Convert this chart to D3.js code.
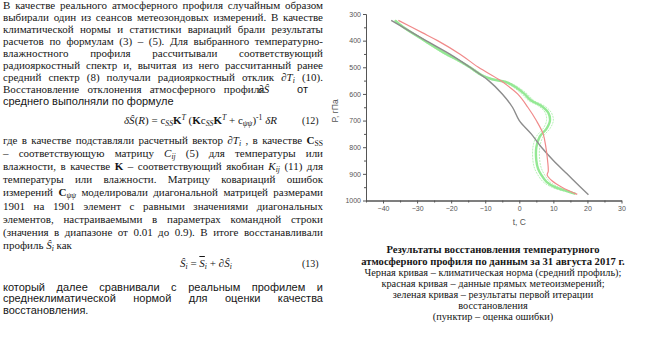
<!DOCTYPE html>
<html>
<head>
<meta charset="utf-8">
<script src="https://cdn.jsdelivr.net/npm/d3@7/dist/d3.min.js"></script>
<style>
  body { margin: 0; width: 656px; height: 338px; background: #fff; position: relative; overflow: hidden; }
  .ln { position: absolute; left: 3px; white-space: nowrap; font: 11px/11px "Liberation Serif", "Times New Roman", serif; color: #161616; }
  .sans { font-family: "Liberation Sans", Arial, sans-serif; }
  .ln sub { font-size: 70%; vertical-align: -2px; line-height: 0; }
  .ln sup { font-size: 70%; vertical-align: 4px; line-height: 0; }
  .cap { position: absolute; left: 330px; width: 326px; text-align: center; white-space: nowrap;
         font: 10.3px/11px "Liberation Serif", "Times New Roman", serif; color: #161616; }
  .cap.b { font-weight: bold; font-size: 10.6px; }
  .ov { text-decoration: overline; }
  #chart { position: absolute; left: 0; top: 0; }
  #chart text { font-family: "Liberation Sans", Arial, sans-serif; fill: #555; }
</style>
</head>
<body>

<!-- left column, paragraph 1 -->
<div class="ln j" style="top:0px"><span>В качестве реального атмосферного профиля случайным образом</span></div>
<div class="ln j" style="top:11.6px"><span>выбирали один из сеансов метеозондовых измерений. В качестве</span></div>
<div class="ln j" style="top:23.7px"><span>климатической нормы и статистики вариаций брали результаты</span></div>
<div class="ln j" style="top:35.8px"><span>расчетов по формулам (3) – (5). Для выбранного температурно-</span></div>
<div class="ln j" style="top:47.9px"><span>влажностного профиля рассчитывали соответствующий</span></div>
<div class="ln j" style="top:60px"><span>радиояркостный спектр и, вычитая из него рассчитанный ранее</span></div>
<div class="ln j" style="top:72.1px"><span>средний спектр (8) получали радиояркостный отклик <i>∂T<sub>i</sub></i> (10).</span></div>
<div class="ln" style="top:84.2px"><span>Восстановление&nbsp;&nbsp;&nbsp;отклонения&nbsp;&nbsp;&nbsp;атмосферного&nbsp;&nbsp;&nbsp;профи<span style="margin-right:-6px">ля</span><i>∂Ŝ</i></span></div>
<div class="ln sans" style="top:84.2px;left:297px">от</div>
<div class="ln sans" style="top:96.3px"><span>среднего выполняли по формуле</span></div>

<!-- formula 12 -->
<div class="ln" style="top:115px;left:124px"><span><i>δŜ</i>(<i>R</i>) = c<sub><i>SS</i></sub><b>K</b><sup><i>T</i></sup> (<b>K</b>c<sub><i>SS</i></sub><b>K</b><sup><i>T</i></sup> + c<sub><i>ψψ</i></sub>)<sup>-1</sup> <i>δR</i></span></div>
<div class="ln" style="top:115px;left:302px;font-size:10px">(12)</div>

<!-- paragraph 2 -->
<div class="ln j" style="top:134.5px"><span>где в качестве подставляли расчетный вектор <i>∂T<sub>i</sub></i> , в качестве <b>C</b><sub>SS</sub></span></div>
<div class="ln j" style="top:147.7px"><span>– соответствующую матрицу <i>C<sub>ij</sub></i> (5) для температуры или</span></div>
<div class="ln j" style="top:160.9px"><span>влажности, в качестве <b>K</b> – соответствующий якобиан <i>K<sub>ij</sub></i> (11) для</span></div>
<div class="ln j" style="top:174.1px"><span>температуры или влажности. Матрицу ковариаций ошибок</span></div>
<div class="ln j" style="top:187.3px"><span>измерений <b>C</b><sub><i>ψψ</i></sub> моделировали диагональной матрицей размерами</span></div>
<div class="ln j" style="top:200.5px"><span>1901 на 1901 элемент с равными значениями диагональных</span></div>
<div class="ln j" style="top:213.7px"><span>элементов, настраиваемыми в параметрах командной строки</span></div>
<div class="ln j" style="top:226.9px"><span>(значения в диапазоне от 0.01 до 0.9). В итоге восстанавливали</span></div>
<div class="ln" style="top:240.1px"><span>профиль <i>Ŝ<sub>i</sub></i> как</span></div>

<!-- formula 13 -->
<div class="ln" style="top:257.5px;left:180px"><span><i>Ŝ<sub>i</sub></i> = <i class="ov">S</i><sub><i>i</i></sub> + <i>∂Ŝ<sub>i</sub></i></span></div>
<div class="ln" style="top:257.5px;left:302px;font-size:10px">(13)</div>

<!-- paragraph 3 -->
<div class="ln sans j" style="top:281.5px"><span>который далее сравнивали с реальным профилем и</span></div>
<div class="ln sans j" style="top:293px"><span>среднеклиматической нормой для оценки качества</span></div>
<div class="ln sans" style="top:304.5px"><span>восстановления.</span></div>

<!-- caption -->
<div class="cap b" style="top:243.5px">Результаты восстановления температурного</div>
<div class="cap b" style="top:255.5px">атмосферного профиля по данным за 31 августа 2017 г.</div>
<div class="cap" style="top:267px">Черная кривая – климатическая норма (средний профиль);</div>
<div class="cap" style="top:278px">красная кривая – данные прямых метеоизмерений;</div>
<div class="cap" style="top:289px">зеленая кривая – результаты первой итерации</div>
<div class="cap" style="top:300px">восстановления</div>
<div class="cap" style="top:311px">(пунктир – оценка ошибки)</div>

<svg id="chart" width="656" height="338"></svg>

<script>
// climatic norm (black/gray curve)
const normP = [324, 400, 450, 500, 550, 600, 650, 700, 750, 800, 850, 900, 950, 978];
const normT = [-37.6, -27.4, -20.5, -14.5, -9, -5, -2, 0, 3.5, 6.5, 10, 14, 18, 20.3];

// direct radiosonde measurements (red curve)
const sondeP = [324, 370, 400, 450, 500, 550, 600, 650, 700, 750, 800, 850, 890, 905, 925, 950, 977];
const sondeT = [-35.5, -28.5, -24, -17.5, -12, -5.5, -0.5, 2.5, 5, 7, 7.8, 8.3, 8.5, 8.2, 9.5, 12.5, 17];

// first iteration retrieval (green curve) and its error estimate
const retrP  = [324, 350, 400, 450, 470, 500, 530, 545, 555, 575, 600, 625, 645, 670, 700, 730, 760, 800, 850, 880, 905, 930, 950, 965, 975];
const retrT  = [-36.5, -34, -27.8, -21.5, -18.5, -14.5, -11, -8, -4, -1, 1.5, 3.5, 6.5, 8.5, 9, 8, 6, 5, 5, 5.5, 6.5, 8, 10.5, 14, 16.5];
const retrLo = [-36.8, -34.3, -28.2, -22, -19, -15, -11.5, -8.5, -4.6, -1.7, 0.7, 2.7, 5.6, 7.6, 8, 7, 5, 4, 4, 4.5, 5.5, 7, 9.5, 13.2, 16];
const retrHi = [-36.2, -33.7, -27.4, -21, -18, -14, -10.5, -7.5, -3.4, -0.3, 2.3, 4.3, 7.4, 9.4, 10, 9, 7, 6, 6, 6.5, 7.5, 9, 11.5, 14.8, 17];

const xTicks = [-40, -30, -20, -10, 0, 10, 20, 30];
const xMinor = [-45, -35, -25, -15, -5, 5, 15, 25];
const yTicks = [300, 400, 500, 600, 700, 800, 900, 1000];
const yMinor = [350, 450, 550, 650, 750, 850, 950];

// stretch justified lines to the column width
document.querySelectorAll('.j').forEach(el => {
  const s = el.firstElementChild;
  const w = s.getBoundingClientRect().width;
  const n = (s.textContent.match(/ /g) || []).length;
  if (n) s.style.wordSpacing = ((320 - w) / n) + 'px';
});

const svg = d3.select('#chart');

const x = d3.scaleLinear().domain([-45, 30]).range([366, 621.5]);
const y = d3.scaleLinear().domain([300, 1000]).range([14, 200.5]);

const styleAxis = g => {
  g.selectAll('path, line').attr('stroke', '#555').attr('stroke-width', 1);
  g.selectAll('text').attr('font-size', 7).attr('fill', '#555');
};

svg.append('g')
  .attr('transform', `translate(${x(-45)},0)`)
  .call(d3.axisLeft(y).tickValues(yMinor).tickSize(2).tickSizeOuter(0).tickFormat(''))
  .call(styleAxis);

svg.append('g')
  .attr('transform', `translate(${x(-45)},0)`)
  .call(d3.axisLeft(y).tickValues(yTicks).tickSize(3).tickSizeOuter(0).tickPadding(2).tickFormat(d3.format('d')))
  .call(styleAxis);

svg.append('g')
  .attr('transform', `translate(0,${y(1000)})`)
  .call(d3.axisBottom(x).tickValues(xMinor).tickSize(2).tickSizeOuter(0).tickFormat(''))
  .call(styleAxis);

svg.append('g')
  .attr('transform', `translate(0,${y(1000)})`)
  .call(d3.axisBottom(x).tickValues(xTicks).tickSize(3).tickSizeOuter(0).tickPadding(3).tickFormat(d3.format('d')))
  .call(styleAxis);

svg.append('text')
  .attr('x', x(0)).attr('y', 225)
  .attr('text-anchor', 'middle')
  .attr('font-size', 8.5)
  .text('t, C');

svg.append('text')
  .attr('transform', `translate(338,111) rotate(-90)`)
  .attr('text-anchor', 'middle')
  .attr('font-size', 8.5)
  .text('P, гПа');

const line = d3.line()
  .x(d => x(d[0]))
  .y(d => y(d[1]))
  .curve(d3.curveCatmullRom);

const curves = [
  { t: retrLo, p: retrP, color: '#a8eea8', width: 0.8, dash: '2,1' },
  { t: retrHi, p: retrP, color: '#a8eea8', width: 0.8, dash: '2,1' },
  { t: retrT, p: retrP, color: '#94e894', width: 2.4, dash: null },
  { t: normT, p: normP, color: '#8c8c8c', width: 1.4, dash: null },
  { t: sondeT, p: sondeP, color: '#f08a8a', width: 1.2, dash: null }
];

svg.append('g').selectAll('path')
  .data(curves)
  .join('path')
  .attr('fill', 'none')
  .attr('stroke', d => d.color)
  .attr('stroke-width', d => d.width)
  .attr('stroke-dasharray', d => d.dash)
  .attr('d', d => line(d3.zip(d.t, d.p)));
</script>
</body>
</html>
